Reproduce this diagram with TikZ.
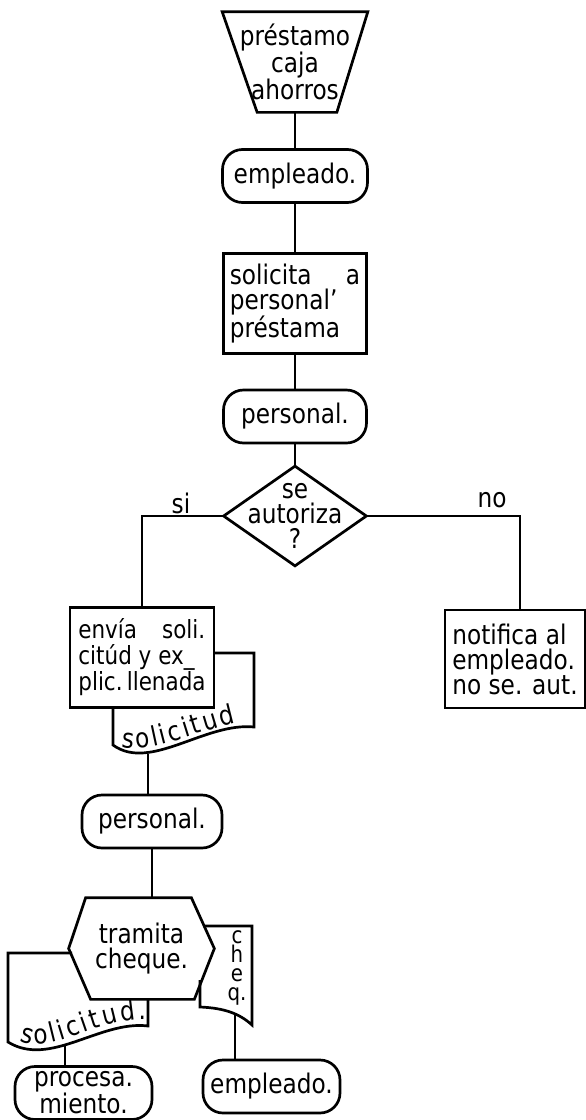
\documentclass[tikz,border=0pt]{standalone}
\usepackage{fontspec}
\setmainfont{DejaVu Sans}[FakeStretch=0.86]
\usepackage{tikz}
\usetikzlibrary{positioning, calc, decorations.text}
\newcommand{\flowfont}{\fontsize{27}{25}\selectfont}
\newcommand{\boxfont}{\fontsize{25}{26}\selectfont}

\begin{document}
\begin{tikzpicture}[
    x=1pt, y=-1pt, line width=2.7pt,
    every node/.style={font=\flowfont},
    term/.style={rectangle, draw, rounded corners=20pt, minimum width=#1,
                 minimum height=53pt, inner sep=0pt, align=center},
    task/.style={rectangle, draw, minimum width=#1, minimum height=100pt,
                 inner sep=6pt, align=left},
    frame/.style={rectangle, inner sep=0pt, align=center},
    doctext/.style={decorate, decoration={text along path,
                 text align={fit to path}, text={|\flowfont|#1}}}
]
    \useasboundingbox (0,0) rectangle (586,1120);

    % start
    \node[frame, minimum width=143pt, minimum height=98pt] (caja) at (295,62) {préstamo\\caja\\ahorros};
    \draw (caja.north west) -- (caja.north east) -- ([xshift=-31pt]caja.south east)
        -- ([xshift=35pt]caja.south west) -- cycle;

    \node[term=145pt] (emp1) at (295,176) {empleado.};
    \node[task=138pt] (solic) at (295,303.5) {solicita\quad\ a\\personal'\\préstama};
    \node[term=143pt] (pers1) at (295,416.5) {personal.};

    % decision
    \node[frame, minimum width=140pt, minimum height=97pt] (autor) at (295,516) {se\\autoriza\\?};
    \draw (autor.north) -- (autor.east) -- (autor.south) -- (autor.west) -- cycle;

    \node[task=144pt, font=\boxfont] (envia) at (142,657.5) {envía\quad soli.\\citúd y ex\_\\plic.\,llenada};
    \node[task=140pt, minimum height=98pt] (notif) at (515,659) {notifica al\\empleado.\\no se. aut.};

    \node (lblsi) at (181,503) {si};
    \node (lblno) at (492,500) {no};

    % solicitud behind envia
    \draw (214,653) -- (254,653) -- (254,727) .. controls (205,722) and (150,772) .. (113,745) -- (113,708);
    \path[doctext=solicitud] (122,747) .. controls (150,754) and (195,732) .. (236,723);
    \coordinate (sol1b) at (148,754);

    \node[term=140pt] (pers2) at (152,821.5) {personal.};

    % tramita
    \node[frame, minimum width=143pt, minimum height=99pt] (tram) at (141.5,948.5) {tramita\\cheque.};
    \draw ([xshift=17pt]tram.north west) -- ([xshift=-23pt]tram.north east) -- (tram.east)
        -- ([xshift=-20pt]tram.south east) -- ([xshift=22pt]tram.south west) -- (tram.west) -- cycle;

    % solicitud behind tramita
    \draw (72,953) -- (8,953) -- (8,1042) .. controls (50,1068) and (100,1020) .. (148,1026) -- (148,998);
    \path[doctext=solicitud.] (20,1041) .. controls (52,1056) and (95,1018) .. (146,1020);
    \coordinate (sol2b) at (65,1045);

    % cheque
    \draw (203,926) -- (252,926) -- (252,1025) .. controls (240,1014) and (225,1008) .. (200,1007) -- (200,980);
    \node[font=\fontsize{23}{19}\selectfont, align=center, inner sep=0pt] (cheqtxt) at (237,968) {c\\h\\e\\q.};
    \coordinate (cheqb) at (235,1014);

    \node[term=137pt, font=\fontsize{27}{22}\selectfont] (proc) at (83.5,1093) {procesa.\\miento.};
    \node[term=137pt] (emp2) at (271.5,1086.5) {empleado.};

    % connectors
    \draw (caja) -- (emp1);
    \draw (emp1) -- (solic);
    \draw (solic) -- (pers1);
    \draw (pers1) -- (autor);
    \draw (autor.west) -| (envia.north);
    \draw (autor.east) -| ([xshift=5pt]notif.north);
    \draw (sol1b) -- (sol1b |- pers2.north);
    \draw (pers2.south) -- (pers2.south |- tram.north);
    \draw (sol2b) -- (sol2b |- proc.north);
    \draw (cheqb) -- (cheqb |- emp2.north);
\end{tikzpicture}
\end{document}
